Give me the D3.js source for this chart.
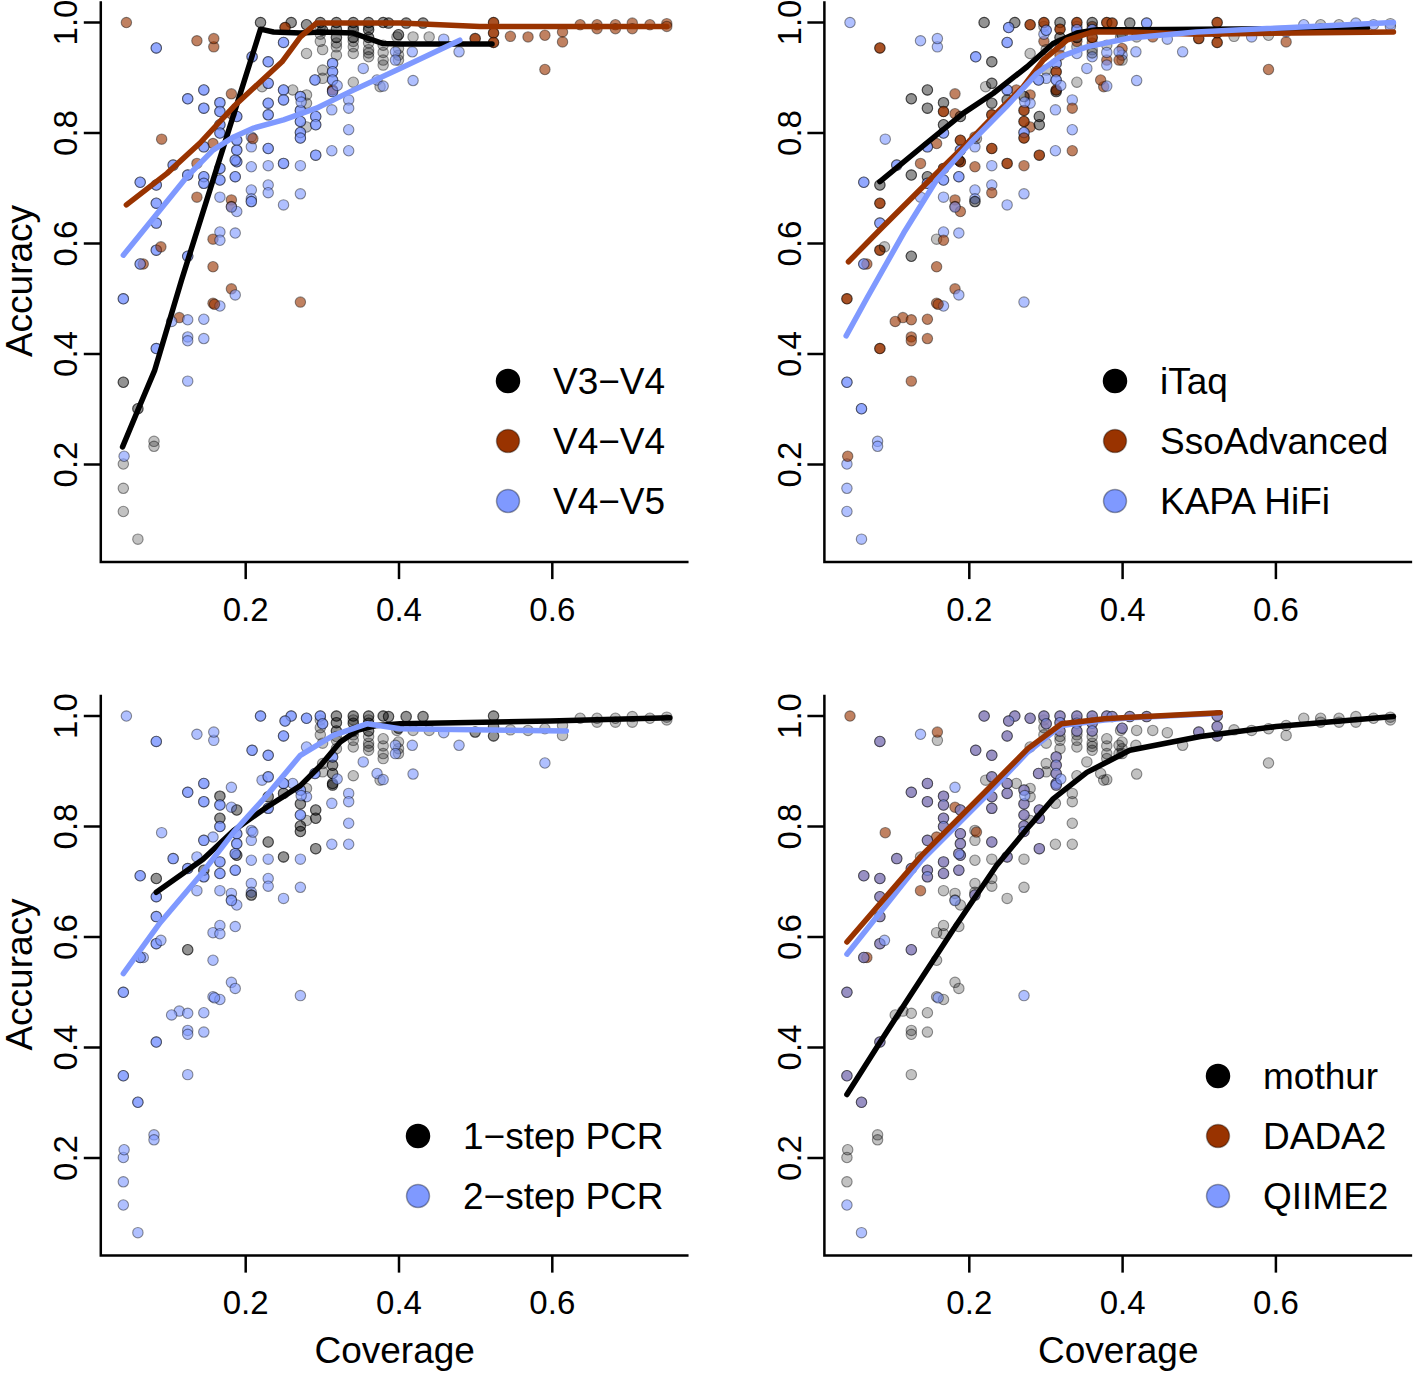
<!DOCTYPE html>
<html><head><meta charset="utf-8">
<script src="https://cdn.jsdelivr.net/npm/d3@7"></script>
<style>
body{margin:0;background:#fff}
text{font-family:"Liberation Sans",Arial,Helvetica,sans-serif;fill:#000}
</style>
</head><body>
<svg id="chart" width="1416" height="1374"></svg>
<script>
// ---------------- labels & ticks ----------------
const regionLabels = ["V3\u2212V4", "V4\u2212V4", "V4\u2212V5"];
const polymeraseLabels = ["iTaq", "SsoAdvanced", "KAPA HiFi"];
const pcrLabels = ["1\u2212step PCR", "2\u2212step PCR"];
const pipelineLabels = ["mothur", "DADA2", "QIIME2"];
const xTicks = [0.2, 0.4, 0.6];
const yTicks = [0.2, 0.4, 0.6, 0.8, 1.0];

// ---------------- points: [coverage, accuracy, region, polymerase, pcr] ----------------
// observations found by both DADA2 and QIIME2
const sharedPoints = [
  [0.220,0.999,0,0,1],[0.260,0.999,0,0,1],[0.280,0.995,0,1,1],[0.298,0.999,0,1,1],[0.301,0.985,0,2,1],
  [0.319,0.999,0,0,0],[0.319,0.987,0,1,0],[0.319,0.972,0,0,0],[0.341,0.999,0,1,0],[0.341,0.986,0,2,0],
  [0.341,0.972,0,0,0],[0.361,0.999,0,0,0],[0.361,0.986,0,2,0],[0.361,0.972,0,1,0],[0.380,0.999,0,1,0],
  [0.387,0.998,0,1,0],[0.410,0.998,0,0,0],[0.432,0.998,0,2,0],[0.400,0.977,0,0,0],[0.041,0.348,0,2,1],
  [0.060,0.300,0,2,1],
  [0.252,0.990,1,2,1],[0.314,0.877,1,1,0],[0.500,0.970,1,1,0],[0.524,0.999,1,1,0],[0.524,0.980,1,1,0],
  [0.524,0.963,1,1,0],
  [0.084,0.953,2,1,1],[0.209,0.937,2,2,1],[0.230,0.928,2,0,1],[0.250,0.963,2,2,1],[0.125,0.861,2,0,1],
  [0.146,0.877,2,0,1],[0.146,0.844,2,0,1],[0.167,0.854,2,0,0],[0.167,0.838,2,1,1],[0.167,0.814,2,0,0],
  [0.167,0.799,2,2,1],[0.189,0.829,2,0,0],[0.189,0.786,2,1,1],[0.189,0.768,2,2,1],[0.189,0.747,2,1,0],
  [0.230,0.889,2,0,1],[0.230,0.853,2,0,0],[0.230,0.832,2,1,1],[0.230,0.771,2,1,0],[0.250,0.877,2,2,1],
  [0.250,0.859,2,0,0],[0.272,0.865,2,0,1],[0.272,0.840,2,1,0],[0.272,0.820,2,1,1],[0.272,0.800,2,2,0],
  [0.272,0.790,2,1,0],[0.291,0.895,2,2,1],[0.292,0.829,2,0,0],[0.292,0.814,2,0,0],[0.292,0.759,2,1,0],
  [0.314,0.925,2,2,1],[0.314,0.910,2,1,0],[0.314,0.895,2,2,0],[0.314,0.874,2,0,0],[0.250,0.744,2,1,0],
  [0.208,0.675,2,0,0],[0.146,0.774,2,2,1],[0.106,0.741,2,2,1],[0.125,0.723,2,0,1],[0.146,0.720,2,0,0],
  [0.146,0.708,2,2,1],[0.167,0.735,2,1,1],[0.167,0.714,2,2,1],[0.187,0.750,2,0,1],[0.187,0.720,2,2,1],
  [0.063,0.710,2,2,1],[0.084,0.705,2,0,0],[0.084,0.672,2,1,1],[0.084,0.636,2,2,1],[0.084,0.587,2,1,1],
  [0.063,0.562,2,2,1],[0.125,0.576,2,0,0],[0.041,0.499,2,1,1],[0.084,0.409,2,1,1]
];
const dada2OnlyPoints = [
  [0.045,0.999,1,2,1],[0.159,0.970,1,2,1],[0.091,0.788,1,2,1],[0.137,0.683,1,2,1],
  [0.067,0.562,1,1,1],[0.158,0.780,1,1,1],[0.182,0.834,1,1,1],[0.210,0.789,1,0,1]
];
const qiime2OnlyPoints = [
  [0.137,0.966,1,2,1],[0.182,0.870,1,1,1],[0.090,0.593,1,0,1],[0.160,0.489,1,1,1],[0.272,0.493,1,2,1],
  [0.041,0.114,0,2,1],[0.060,0.064,0,2,1],[0.273,0.855,2,2,1],[0.320,0.885,2,2,1],[0.182,0.665,2,2,1]
];
const mothurPoints = [
  [0.280,0.943,0,0,1],[0.222,0.883,0,0,1],[0.262,0.877,0,1,1],[0.280,0.868,0,1,0],[0.280,0.853,0,2,1],
  [0.280,0.810,0,1,0],[0.301,0.913,0,0,0],[0.301,0.898,0,2,0],[0.341,0.891,0,0,0],[0.380,0.931,0,1,0],
  [0.380,0.922,0,2,0],[0.376,0.883,0,1,0],[0.398,0.973,0,0,0],[0.298,0.965,0,1,0],[0.301,0.950,0,0,0],
  [0.319,0.955,0,2,0],[0.319,0.940,0,1,0],[0.341,0.955,0,0,0],[0.341,0.943,0,2,0],[0.361,0.962,0,1,0],
  [0.361,0.950,0,0,0],[0.361,0.937,0,2,0],[0.380,0.958,0,0,0],[0.400,0.952,0,1,0],[0.400,0.940,0,2,0],
  [0.400,0.931,0,0,0],[0.419,0.973,0,0,0],[0.440,0.973,0,1,0],[0.081,0.241,0,2,1],[0.081,0.232,0,2,1],
  [0.041,0.200,0,2,1],[0.041,0.156,0,2,1],
  [0.298,0.978,0,2,0],[0.319,0.962,0,0,0],[0.341,0.965,0,1,0],[0.361,0.944,0,0,0],[0.380,0.945,0,2,0],
  [0.298,0.992,0,0,0],[0.341,0.992,0,2,0],[0.361,0.992,0,1,0],
  [0.159,0.955,1,2,1],[0.182,0.678,1,1,1],[0.182,0.666,1,1,1],[0.158,0.607,1,0,1],[0.182,0.517,1,1,1],
  [0.158,0.491,1,1,1],[0.114,0.465,1,1,1],[0.137,0.744,1,1,1],[0.158,0.557,1,1,1],[0.546,0.974,1,0,0],
  [0.569,0.973,1,2,0],[0.591,0.976,1,0,0],[0.591,0.914,1,1,1],[0.614,0.982,1,2,0],[0.614,0.964,1,1,0],
  [0.637,0.995,1,2,0],[0.659,0.995,1,0,0],[0.659,0.988,1,2,0],[0.683,0.995,1,0,0],[0.683,0.988,1,2,0],
  [0.705,0.998,1,2,0],[0.705,0.988,1,0,0],[0.728,0.995,1,2,0],[0.750,0.997,1,0,0],[0.750,0.992,1,2,0],
  [0.208,0.792,2,1,1],[0.208,0.774,2,2,1],[0.208,0.738,2,1,1],[0.230,0.740,2,2,1],[0.272,0.740,2,1,1],
  [0.313,0.841,2,2,1],[0.313,0.767,2,2,1],[0.335,0.859,2,2,1],[0.335,0.844,2,1,1],[0.335,0.805,2,2,1],
  [0.335,0.767,2,1,1],[0.354,0.916,2,2,1],[0.372,0.895,2,1,1],[0.380,0.884,2,2,1],[0.396,0.946,2,2,1],
  [0.396,0.931,2,1,1],[0.418,0.946,2,2,1],[0.419,0.894,2,2,1],[0.459,0.969,2,2,1],[0.479,0.946,2,2,1],
  [0.167,0.683,2,2,1],[0.189,0.657,2,1,1],[0.208,0.696,2,2,1],[0.208,0.680,2,2,1],[0.230,0.705,2,2,1],
  [0.230,0.691,2,1,1],[0.250,0.669,2,2,1],[0.272,0.689,2,2,1],[0.167,0.620,2,2,1],[0.167,0.605,2,1,1],
  [0.187,0.618,2,2,1],[0.187,0.506,2,2,1],[0.167,0.486,2,2,1],[0.104,0.458,2,1,1],[0.125,0.461,2,1,1],
  [0.146,0.462,2,1,1],[0.125,0.430,2,1,1],[0.125,0.423,2,1,1],[0.146,0.427,2,1,1],[0.125,0.350,2,1,1],
  [0.042,0.214,2,1,1]
];

// ---------------- smoothed trend lines: [coverage, accuracy] ----------------
const lineV3V4 = [[0.040,0.231],[0.061,0.301],[0.082,0.370],[0.117,0.533],[0.220,0.987],[0.237,0.982],[0.272,0.980],[0.298,0.982],[0.341,0.980],[0.359,0.971],[0.380,0.961],[0.402,0.960],[0.522,0.960]];
const lineV4V4 = [[0.045,0.669],[0.098,0.726],[0.141,0.781],[0.185,0.847],[0.248,0.928],[0.272,0.973],[0.293,0.998],[0.402,0.998],[0.506,0.992],[0.750,0.992]];
const lineV4V5 = [[0.041,0.578],[0.082,0.648],[0.124,0.720],[0.158,0.768],[0.185,0.792],[0.211,0.808],[0.250,0.823],[0.293,0.844],[0.337,0.874],[0.402,0.916],[0.480,0.967]];
const lineITaq = [[0.084,0.711],[0.145,0.781],[0.193,0.835],[0.232,0.871],[0.276,0.919],[0.310,0.961],[0.341,0.980],[0.367,0.986],[0.410,0.986],[0.720,0.989]];
const lineSso = [[0.043,0.566],[0.084,0.624],[0.149,0.714],[0.193,0.774],[0.236,0.835],[0.271,0.883],[0.297,0.931],[0.328,0.967],[0.362,0.982],[0.410,0.982],[0.500,0.978],[0.754,0.982]];
const lineKapa = [[0.040,0.432],[0.067,0.500],[0.115,0.618],[0.158,0.714],[0.202,0.781],[0.249,0.847],[0.289,0.907],[0.319,0.937],[0.354,0.955],[0.410,0.971],[0.497,0.982],[0.754,0.999]];
const line1Step = [[0.084,0.680],[0.145,0.740],[0.185,0.792],[0.228,0.834],[0.272,0.873],[0.298,0.909],[0.324,0.952],[0.346,0.973],[0.372,0.982],[0.402,0.985],[0.598,0.990],[0.754,0.996]];
const line2Step = [[0.041,0.533],[0.089,0.625],[0.141,0.710],[0.185,0.789],[0.228,0.855],[0.272,0.928],[0.315,0.964],[0.359,0.985],[0.402,0.976],[0.619,0.972]];
const lineMothur = [[0.041,0.314],[0.084,0.408],[0.123,0.492],[0.180,0.613],[0.236,0.728],[0.276,0.795],[0.310,0.849],[0.354,0.897],[0.410,0.937],[0.502,0.962],[0.601,0.980],[0.754,0.998]];
const lineDada2 = [[0.041,0.590],[0.138,0.746],[0.225,0.867],[0.277,0.940],[0.321,0.985],[0.377,0.994],[0.412,0.997],[0.528,1.005]];
const lineQiime2 = [[0.041,0.568],[0.138,0.737],[0.225,0.858],[0.277,0.934],[0.321,0.982],[0.377,0.992],[0.412,0.996],[0.528,1.004]];

// ---------------- drawing ----------------
const BLACK = "#000000", ORANGE = "#993300", BLUE = "#7F99FF";
const fillAlpha = {[BLACK]: 0.24, [ORANGE]: 0.62, [BLUE]: 0.62};

// all observations tagged with pipeline (0 mothur, 1 DADA2, 2 QIIME2)
const observations = [].concat(
  mothurPoints.map(p => p.concat([0])),
  sharedPoints.map(p => p.concat([1])),
  dada2OnlyPoints.map(p => p.concat([1])),
  sharedPoints.map(p => p.concat([2])),
  qiime2OnlyPoints.map(p => p.concat([2]))
);

const panels = [
  {col:0, row:0, field:2, labels:regionLabels, colors:[BLACK,ORANGE,BLUE],
   lines:[lineV3V4,lineV4V4,lineV4V5], order:[0,1,2], legendX:508, legendY:381},
  {col:1, row:0, field:3, labels:polymeraseLabels, colors:[BLACK,ORANGE,BLUE],
   lines:[lineITaq,lineSso,lineKapa], order:[0,1,2], legendX:391.4, legendY:381},
  {col:0, row:1, field:4, labels:pcrLabels, colors:[BLACK,BLUE],
   lines:[line1Step,line2Step], order:[0,1], legendX:418, legendY:442.5},
  {col:1, row:1, field:5, labels:pipelineLabels, colors:[BLACK,ORANGE,BLUE],
   lines:[lineMothur,lineDada2,lineQiime2], order:[0,2,1], legendX:494.4, legendY:382.5}
];

const svg = d3.select("#chart");
const x = d3.scaleLinear().domain([0, 1]).range([91.9, 858.4]);
const y = d3.scaleLinear().domain([0, 1]).range([574.5, 22]);
const xMin = 0.0116, xMax = 0.7784, yMin = 0.0224, yMax = 1.0376;
const line = d3.line().x(d => x(d[0])).y(d => y(d[1]));

panels.forEach(pn => {
  const g = svg.append("g").attr("transform", `translate(${pn.col * 723.6},${pn.row * 693.5})`);

  // points
  g.append("g").selectAll("circle").data(observations).join("circle")
    .attr("cx", d => x(d[0]))
    .attr("cy", d => y(d[1]))
    .attr("r", 5.2)
    .attr("fill", d => {
      const c = pn.colors[d[pn.field]];
      const col = d3.color(c); col.opacity = fillAlpha[c]; return col.toString();
    })
    .attr("stroke", "rgba(0,0,0,0.42)")
    .attr("stroke-width", 1.1);

  // lines
  pn.order.forEach(i => {
    g.append("path").datum(pn.lines[i])
      .attr("d", line)
      .attr("fill", "none")
      .attr("stroke", pn.colors[i])
      .attr("stroke-width", 5.5)
      .attr("stroke-linejoin", "round")
      .attr("stroke-linecap", "round");
  });

  // axes
  const xAxis = g.append("g").attr("transform", `translate(0,${y(yMin)})`)
    .call(d3.axisBottom(x).tickValues(xTicks).tickSize(17).tickFormat(d3.format(".1f")));
  const yAxis = g.append("g").attr("transform", `translate(${x(xMin)},0)`)
    .call(d3.axisLeft(y).tickValues(yTicks).tickSize(17).tickFormat(d3.format(".1f")));
  [xAxis, yAxis].forEach(a => {
    a.select(".domain").remove();
    a.selectAll(".tick line").attr("stroke", "#000").attr("stroke-width", 2.5);
    a.selectAll("text").style("font-size", "33px")
      .attr("font-family", "Liberation Sans, Arial, sans-serif");
  });
  xAxis.selectAll("text").attr("y", 47).attr("dy", null).attr("dominant-baseline", "central");
  yAxis.selectAll("text").attr("x", 0).attr("y", -35).attr("dy", null)
    .attr("transform", "rotate(-90)").attr("text-anchor", "middle").attr("dominant-baseline", "central");

  // L-shaped box
  g.append("path")
    .attr("d", `M${x(xMin)},${y(yMax)}V${y(yMin)}H${x(xMax)}`)
    .attr("fill", "none").attr("stroke", "#000").attr("stroke-width", 2.5);

  // axis titles
  if (pn.col === 0) {
    g.append("text").attr("transform", `translate(19,281) rotate(-90)`)
      .attr("text-anchor", "middle").attr("dominant-baseline", "central")
      .style("font-size", "37px").text("Accuracy");
  }
  if (pn.row === 1) {
    g.append("text").attr("x", (x(xMin) + x(xMax)) / 2).attr("y", 656.5)
      .attr("text-anchor", "middle").attr("dominant-baseline", "central")
      .style("font-size", "37px").text("Coverage");
  }

  // legend
  const lg = g.append("g");
  pn.labels.forEach((lab, i) => {
    const ly = pn.legendY + i * 60;
    lg.append("circle").attr("cx", pn.legendX).attr("cy", ly).attr("r", 11.5)
      .attr("fill", pn.colors[i])
      .attr("stroke", i === 0 ? "#000" : "rgba(0,0,0,0.35)").attr("stroke-width", 1.5);
    lg.append("text").attr("x", pn.legendX + 45).attr("y", ly)
      .attr("dominant-baseline", "central").style("font-size", "37px").text(lab);
  });
});
</script>
</body></html>
